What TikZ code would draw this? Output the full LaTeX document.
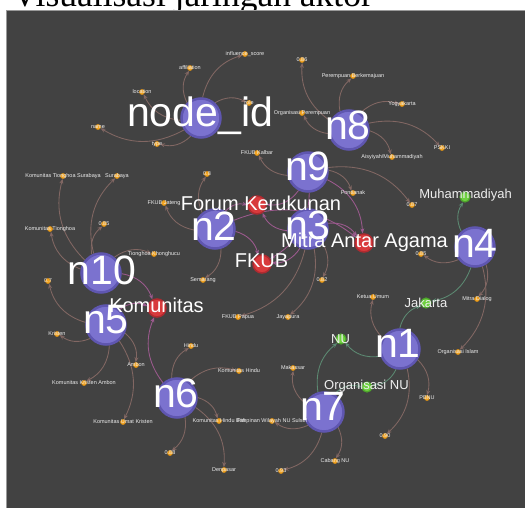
\documentclass[tikz,border=0pt]{standalone}
\usepackage{fontspec}
\setmainfont{Liberation Sans}
\newfontfamily\titlefont{Liberation Serif}
\usetikzlibrary{arrows.meta}
\pgfdeclarelayer{panel}
\pgfdeclarelayer{edges}
\pgfsetlayers{panel,edges,main}
\definecolor{panelc}{HTML}{424242}
\definecolor{panelline}{HTML}{9A9A9A}
\definecolor{purpfill}{HTML}{7B72CF}
\definecolor{purpring}{HTML}{5F56B0}
\definecolor{redfill}{HTML}{D83A3C}
\definecolor{redring}{HTML}{B02A30}
\definecolor{grnfill}{HTML}{6FD140}
\definecolor{grnring}{HTML}{4EA52C}
\definecolor{orgfill}{HTML}{F5A623}
\definecolor{orgring}{HTML}{D08A18}
\definecolor{edgeo}{HTML}{826763}
\definecolor{edger}{HTML}{9C5A8E}
\definecolor{edgeg}{HTML}{5C8A72}
\definecolor{smtext}{HTML}{EEEEEE}
\tikzset{
  bignode/.style={circle, fill=purpfill, draw=purpring, line width=2.5pt, minimum size=39pt, inner sep=0pt},
  rednode/.style={circle, fill=redfill, draw=redring, line width=1.5pt, minimum size=18pt, inner sep=0pt},
  grnnode/.style={circle, fill=grnfill, draw=grnring, line width=1.2pt, minimum size=10pt, inner sep=0pt},
  orgnode/.style={circle, fill=orgfill, draw=orgring, line width=0.7pt, minimum size=5pt, inner sep=0pt},
  biglab/.style={text=white, font=\fontsize{41}{41}\selectfont, inner sep=0pt, anchor=base},
  redlab/.style={text=white, font=\fontsize{20}{20}\selectfont, inner sep=0pt, anchor=base},
  grnlab/.style={text=smtext, font=\fontsize{13}{13}\selectfont, inner sep=0pt, anchor=base},
  smlab/.style={text=smtext, font=\fontsize{5.5}{5.5}\selectfont, inner sep=0pt, anchor=center},
  eo/.style={draw=edgeo, line width=0.85pt, -{Stealth[length=5pt,width=4pt]}, bend left=30},
  er/.style={draw=edger, line width=0.85pt, -{Stealth[length=5pt,width=4pt]}, bend left=30},
  eg/.style={draw=edgeg, line width=0.85pt, -{Stealth[length=5pt,width=4pt]}, bend left=30}
}
\begin{document}
\begin{tikzpicture}[x=1pt,y=-1pt]
\begin{pgfonlayer}{panel}
\useasboundingbox (0,0) rectangle (525,508);
\node[font=\titlefont\fontsize{35.5}{35.5}\selectfont, anchor=base west, inner sep=0pt] (title) at (12,6.5) {Visualisasi jaringan aktor};
\fill[panelc] (6,10) rectangle (530,515);
\draw[panelline, line width=0.7pt] (6,515) -- (6,10) -- (530,10);
\end{pgfonlayer}

% big actor nodes
\node[bignode] (nid) at (201,118) {};
\node[bignode] (n8) at (349,130) {};
\node[bignode] (n9) at (308,172) {};
\node[bignode] (n2) at (215,229) {};
\node[bignode] (n3) at (308,229) {};
\node[bignode] (n4) at (475,247) {};
\node[bignode] (n10) at (101,273) {};
\node[bignode] (n5) at (106,325) {};
\node[bignode] (n6) at (177,398) {};
\node[bignode] (n7) at (324,412) {};
\node[bignode] (n1) at (400,349) {};

% red shared nodes
\node[rednode] (fk) at (257,205) {};
\node[rednode] (fkub) at (262,264) {};
\node[rednode] (maa) at (364,243) {};
\node[rednode] (kom) at (157,308) {};

% green shared nodes
\node[grnnode] (muh) at (465,197) {};
\node[grnnode] (jkt) at (426,303) {};
\node[grnnode] (nu) at (341,339) {};
\node[grnnode] (onu) at (367,387) {};

% orange value nodes
\node[orgnode] (inf) at (245,54) {};
\node[orgnode] (aff) at (190,68) {};
\node[orgnode] (loc) at (142,92) {};
\node[orgnode] (nam) at (98,127) {};
\node[orgnode] (typ) at (157,144) {};
\node[orgnode] (rol) at (249,103) {};

\node[orgnode] (s086) at (302,60) {};
\node[orgnode] (prb) at (353,76) {};
\node[orgnode] (yog) at (402,104) {};
\node[orgnode] (orp) at (302,113) {};
\node[orgnode] (psk) at (442,148) {};
\node[orgnode] (ais) at (392,157) {};

\node[orgnode] (fkal) at (257,153) {};
\node[orgnode] (pon) at (353,193) {};
\node[orgnode] (s087) at (412,205) {};

\node[orgnode] (fjat) at (164,203) {};
\node[orgnode] (s08) at (207,174) {};
\node[orgnode] (smg) at (203,280) {};

\node[orgnode] (s082) at (322,280) {};
\node[orgnode] (jay) at (288,317) {};
\node[orgnode] (fpap) at (238,317) {};

\node[orgnode] (s085b) at (421,254) {};
\node[orgnode] (mdi) at (477,299) {};
\node[orgnode] (ois) at (458,352) {};

\node[orgnode] (kts) at (63,176) {};
\node[orgnode] (sby) at (117,176) {};
\node[orgnode] (s085a) at (104,224) {};
\node[orgnode] (kti) at (50,229) {};
\node[orgnode] (tkh) at (154,254) {};

\node[orgnode] (s07) at (48,281) {};
\node[orgnode] (kri) at (57,334) {};
\node[orgnode] (amb) at (136,365) {};
\node[orgnode] (kka) at (84,383) {};
\node[orgnode] (kuk) at (123,422) {};

\node[orgnode] (hin) at (191,346) {};
\node[orgnode] (khi) at (239,371) {};
\node[orgnode] (khb) at (219,421) {};
\node[orgnode] (s088) at (170,453) {};
\node[orgnode] (dps) at (224,470) {};

\node[orgnode] (mks) at (293,368) {};
\node[orgnode] (pwn) at (272,421) {};
\node[orgnode] (cnu) at (335,461) {};
\node[orgnode] (s093) at (281,471) {};

\node[orgnode] (ket) at (373,297) {};
\node[orgnode] (pbnu) at (427,398) {};
\node[orgnode] (s090) at (385,436) {};

% edges
\begin{pgfonlayer}{edges}
\draw[eo] (nid) to (inf);
\draw[eo] (nid) to (aff);
\draw[eo] (nid) to (loc);
\draw[eo] (nid) to (nam);
\draw[eo] (nid) to (typ);
\draw[eo] (nid) to (rol);

\draw[eo] (n8) to (s086);
\draw[eo] (n8) to (prb);
\draw[eo] (n8) to (yog);
\draw[eo] (n8) to (orp);
\draw[eo] (n8) to (psk);
\draw[eo] (n8) to (ais);

\draw[eo] (n9) to (fkal);
\draw[eo] (n9) to (pon);
\draw[eo] (n9) to (s087);
\draw[er] (n9) to (fk);
\draw[er] (n9) to (fkub);
\draw[er] (n9) to (maa);

\draw[eo] (n2) to (fjat);
\draw[eo] (n2) to (s08);
\draw[eo] (n2) to (smg);
\draw[er] (n2) to (fk);
\draw[er] (n2) to (fkub);
\draw[er] (n2) to (maa);

\draw[eo] (n3) to (s082);
\draw[eo] (n3) to (jay);
\draw[eo] (n3) to (fpap);
\draw[er] (n3) to (fk);
\draw[er] (n3) to (fkub);
\draw[er] (n3) to (maa);

\draw[eo] (n4) to (s085b);
\draw[eo] (n4) to (mdi);
\draw[eo] (n4) to (ois);
\draw[eg] (n4) to (muh);
\draw[eg] (n4) to (jkt);

\draw[eo] (n10) to (kts);
\draw[eo] (n10) to (sby);
\draw[eo] (n10) to (s085a);
\draw[eo] (n10) to (kti);
\draw[eo] (n10) to (tkh);
\draw[er] (n10) to (kom);

\draw[eo] (n5) to (s07);
\draw[eo] (n5) to (kri);
\draw[eo] (n5) to (amb);
\draw[eo] (n5) to (kka);
\draw[eo] (n5) to (kuk);
\draw[er] (n5) to (kom);

\draw[eo] (n6) to (hin);
\draw[eo] (n6) to (khi);
\draw[eo] (n6) to (khb);
\draw[eo] (n6) to (s088);
\draw[eo] (n6) to (dps);
\draw[er] (n6) to (kom);

\draw[eo] (n7) to (mks);
\draw[eo] (n7) to (pwn);
\draw[eo] (n7) to (cnu);
\draw[eo] (n7) to (s093);
\draw[eg] (n7) to (nu);
\draw[eg] (n7) to (onu);

\draw[eo] (n1) to (ket);
\draw[eo] (n1) to (pbnu);
\draw[eo] (n1) to (s090);
\draw[eg] (n1) to (nu);
\draw[eg] (n1) to (jkt);
\draw[eg] (n1) to (onu);
\end{pgfonlayer}

% small labels
\node[smlab] (linf) at (inf) {influence\_score};
\node[smlab] (laff) at (aff) {affiliation};
\node[smlab] (lloc) at (loc) {location};
\node[smlab] (lnam) at (nam) {name};
\node[smlab] (ltyp) at (typ) {type};
\node[smlab] (lrol) at (rol) {role};
\node[smlab] (ls086) at (s086) {0.86};
\node[smlab] (lprb) at (prb) {Perempuan Berkemajuan};
\node[smlab] (lyog) at (yog) {Yogyakarta};
\node[smlab] (lorp) at (orp) {Organisasi Perempuan};
\node[smlab] (lpsk) at (psk) {PSKKI};
\node[smlab] (lais) at (ais) {Aisyiyah/Muhammadiyah};
\node[smlab] (lfkal) at (fkal) {FKUB Kalbar};
\node[smlab] (lpon) at (pon) {Pontianak};
\node[smlab] (ls087) at (s087) {0.87};
\node[smlab] (lfjat) at (fjat) {FKUB Jateng};
\node[smlab] (ls08) at (s08) {0.8};
\node[smlab] (lsmg) at (smg) {Semarang};
\node[smlab] (ls082) at (s082) {0.82};
\node[smlab] (ljay) at (jay) {Jayapura};
\node[smlab] (lfpap) at (fpap) {FKUB Papua};
\node[smlab] (ls085b) at (s085b) {0.85};
\node[smlab] (lmdi) at (mdi) {Mitra Dialog};
\node[smlab] (lois) at (ois) {Organisasi Islam};
\node[smlab] (lkts) at (kts) {Komunitas Tionghoa Surabaya};
\node[smlab] (lsby) at (sby) {Surabaya};
\node[smlab] (ls085a) at (s085a) {0.85};
\node[smlab] (lkti) at (kti) {Komunitas Tionghoa};
\node[smlab] (ltkh) at (tkh) {Tionghoa Khonghucu};
\node[smlab] (ls07) at (s07) {0.7};
\node[smlab] (lkri) at (kri) {Kristen};
\node[smlab] (lamb) at (amb) {Ambon};
\node[smlab] (lkka) at (kka) {Komunitas Kristen Ambon};
\node[smlab] (lkuk) at (kuk) {Komunitas Umat Kristen};
\node[smlab] (lhin) at (hin) {Hindu};
\node[smlab] (lkhi) at (khi) {Komunitas Hindu};
\node[smlab] (lkhb) at (khb) {Komunitas Hindu Bali};
\node[smlab] (ls088) at (s088) {0.88};
\node[smlab] (ldps) at (dps) {Denpasar};
\node[smlab] (lmks) at (mks) {Makassar};
\node[smlab] (lpwn) at (pwn) {Pimpinan Wilayah NU Sulsel};
\node[smlab] (lcnu) at (cnu) {Cabang NU};
\node[smlab] (ls093) at (s093) {0.93};
\node[smlab] (lket) at (ket) {Ketua Umum};
\node[smlab] (lpbnu) at (pbnu) {PBNU};
\node[smlab] (ls090) at (s090) {0.90};

% green labels
\node[grnlab] (lmuh) at (465.5,199) {Muhammadiyah};
\node[grnlab] (ljkt) at (426,307) {Jakarta};
\node[grnlab] (lnu) at (340.5,343) {NU};
\node[grnlab] (lonu) at (366.5,389.5) {Organisasi NU};

% red labels
\node[redlab] (lfk) at (261,210.5) {Forum Kerukunan};
\node[redlab] (lfkub) at (261.5,267) {FKUB};
\node[redlab] (lmaa) at (364.5,247) {Mitra Antar Agama};
\node[redlab] (lkom) at (156.5,312) {Komunitas};

% big labels
\node[biglab] (lnid) at (200,127) {node\_id};
\node[biglab] (ln8) at (348,140) {n8};
\node[biglab] (ln9) at (308,181) {n9};
\node[biglab] (ln2) at (214,240) {n2};
\node[biglab] (ln3) at (308,239) {n3};
\node[biglab] (ln4) at (475,257) {n4};
\node[biglab] (ln10) at (102,284) {n10};
\node[biglab] (ln5) at (106,333) {n5};
\node[biglab] (ln6) at (176,407) {n6};
\node[biglab] (ln7) at (323,420) {n7};
\node[biglab] (ln1) at (398,357) {n1};
\end{tikzpicture}
\end{document}
